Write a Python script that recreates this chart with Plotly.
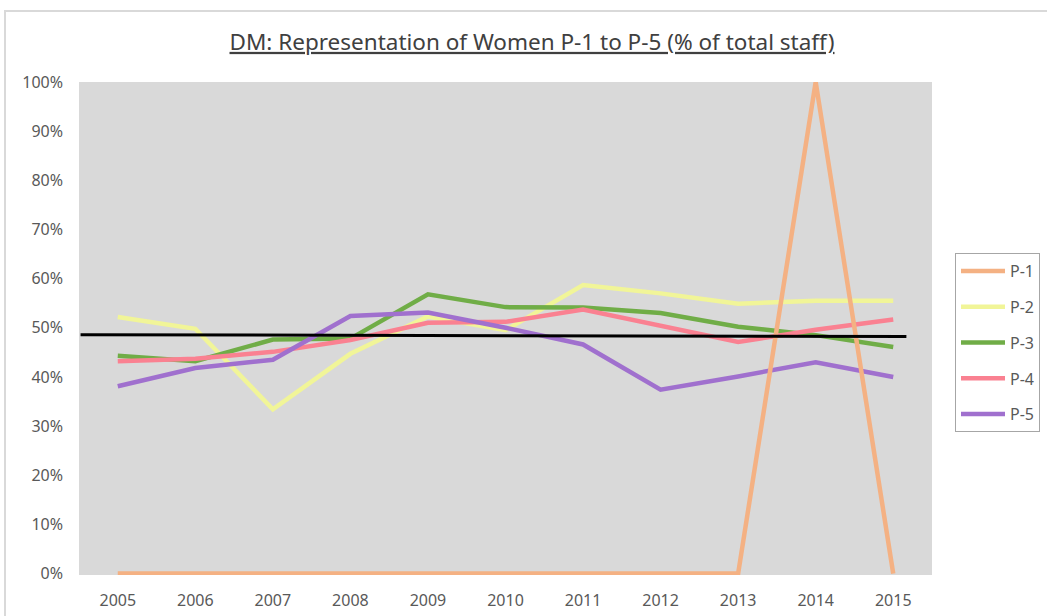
import plotly.graph_objects as go

years = [2005, 2006, 2007, 2008, 2009, 2010, 2011, 2012, 2013, 2014, 2015]
p1 = [0, 0, 0, 0, 0, 0, 0, 0, 0, 100, 0]
p2 = [52.2, 49.8, 33.4, 44.7, 52.3, 49.5, 58.7, 57.0, 54.9, 55.5, 55.5]
p3 = [44.3, 43.2, 47.6, 47.8, 56.8, 54.2, 54.1, 53.0, 50.2, 48.5, 46.1]
p4 = [43.2, 43.7, 45.1, 47.5, 51.0, 51.2, 53.7, 50.5, 47.1, 49.6, 51.7]
p5 = [38.1, 41.8, 43.5, 52.4, 53.1, 50.0, 46.6, 37.4, 40.1, 43.0, 40.0]
ref_x = [2004.52, 2015.17]
ref_y = [48.6, 48.2]
y_ticks = [0, 10, 20, 30, 40, 50, 60, 70, 80, 90, 100]
y_tick_labels = [f"{v}%" for v in y_ticks]

series = [
    ("P-1", p1, "#F4B183", 1),
    ("P-2", p2, "#F1F598", 2),
    ("P-3", p3, "#70AD47", 3),
    ("P-4", p4, "#FA8191", 4),
    ("P-5", p5, "#A070CE", 5),
]

fig = go.Figure()
draw_order = [1, 2, 3, 4, 0]
for i in draw_order:
    name, vals, col, rank = series[i]
    fig.add_trace(go.Scatter(
        x=years, y=vals, name=name, mode="lines",
        line=dict(color=col, width=4.5),
        legendrank=rank, legendgroup=name,
    ))

fig.add_trace(go.Scatter(
    x=ref_x, y=ref_y, mode="lines", showlegend=False,
    line=dict(color="#000000", width=3), hoverinfo="skip",
))

W, H = 1047, 616
L, R, T, B = 79, 115, 82, 41
pw, ph = W - L - R, H - T - B

fig.update_layout(
    width=W, height=H,
    margin=dict(l=L, r=R, t=T, b=B, autoexpand=False),
    paper_bgcolor="white", plot_bgcolor="#D9D9D9",
    title=dict(
        text="<u>DM: Representation of Women P-1 to P-5 (% of total staff)</u>",
        x=532 / W, xanchor="center", y=1 - 42 / H, yanchor="middle",
        font=dict(family="Noto Sans", size=22.5, color="#404040"),
    ),
    font=dict(family="Noto Sans", color="#595959", size=16),
    legend=dict(
        x=(955 - L) / pw, xanchor="left", y=(H - B - 253) / ph, yanchor="top",
        bordercolor="#A6A6A6", borderwidth=1, bgcolor="white",
        traceorder="grouped", tracegroupgap=12, itemwidth=44,
        font=dict(size=16, color="#595959"),
    ),
    showlegend=True,
    shapes=[dict(type="rect", xref="paper", yref="paper",
                 x0=(5 - L) / pw, x1=(1060 - L) / pw,
                 y0=(H - B - 640) / ph, y1=(H - B - 11) / ph,
                 line=dict(color="#D9D9D9", width=2), fillcolor="rgba(0,0,0,0)",
                 layer="below")],
)
fig.update_xaxes(
    range=[2004.5, 2015.5], tickmode="array", tickvals=years,
    ticktext=[str(y) for y in years], showgrid=False, zeroline=False,
    showline=False, ticks="", ticklabelstandoff=14, automargin=False,
    tickfont=dict(size=16, color="#595959"),
)
fig.update_yaxes(
    range=[-0.3, 100], tickmode="array", tickvals=y_ticks, ticktext=y_tick_labels,
    showgrid=False, zeroline=False, showline=False, ticks="",
    ticklabelstandoff=15, automargin=False,
    tickfont=dict(size=16, color="#595959"),
)

fig.write_html("out.html", config={"displayModeBar": False},
               post_script="document.body.style.margin='0px';")
